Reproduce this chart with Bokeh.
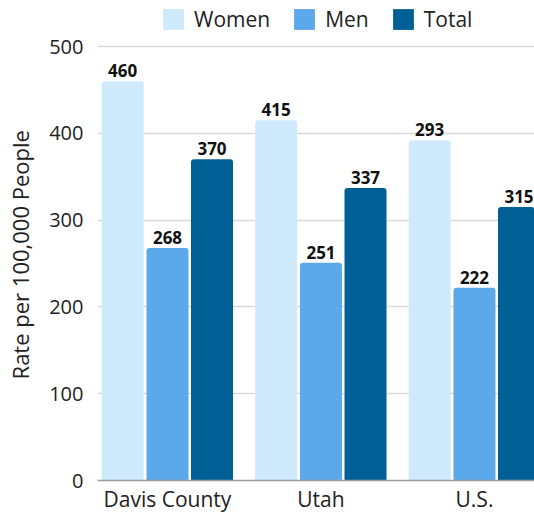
from bokeh.plotting import figure
from bokeh.models import Range1d, FixedTicker, Legend, LegendItem, ColumnDataSource
from bokeh.core.properties import value
from bokeh.embed import file_html
from bokeh.resources import INLINE

categories = ["Davis County", "Utah", "U.S."]
women = [460, 415, 392]
men = [268, 251, 222]
total = [370, 337, 315]
women_labels = ["460", "415", "293"]
men_labels = ["268", "251", "222"]
total_labels = ["370", "337", "315"]
y_ticks = [0, 100, 200, 300, 400, 500]
y_title = "Rate per 100,000 People"

series = [
    ("Women", women, women_labels, "#cfeafc", -0.292),
    ("Men", men, men_labels, "#5ba8ea", 0.0),
    ("Total", total, total_labels, "#006096", 0.29),
]

FONT = "Open Sans"

p = figure(width=534, height=515, output_backend="svg", toolbar_location=None,
           x_range=Range1d(-0.456, 2.391), y_range=Range1d(0, 553.0),
           min_border_left=97, min_border_right=0, min_border_top=0, min_border_bottom=35)
p.outline_line_color = None
p.background_fill_color = "white"
p.border_fill_color = "white"

items = []
base_x = list(range(len(categories)))
for name, vals, labels, color, off in series:
    xs = [b + off for b in base_x]
    src = ColumnDataSource(dict(x=xs, top=vals, lab=labels))
    r = p.vbar(x="x", top="top", width=0.2736, source=src, fill_color=color,
               line_color=None, border_radius=(3, 3, 0, 0))
    p.text(x="x", y="top", text="lab", source=src, text_align="center",
           text_baseline="bottom", y_offset=-4, text_font=value(FONT),
           text_font_size="17px", text_font_style="bold", text_color="#111111")
    items.append(LegendItem(label=name, renderers=[r]))

legend = Legend(items=items, orientation="horizontal", location=(63, 447),
                glyph_width=26, glyph_height=26, label_standoff=8, spacing=21,
                padding=0, margin=0, border_line_color=None, background_fill_alpha=0,
                label_text_font=FONT, label_text_font_size="21px",
                label_text_color="#222222", label_height=26)
p.add_layout(legend)

p.xaxis.ticker = FixedTicker(ticks=base_x)
p.xaxis.major_label_overrides = {i: c for i, c in enumerate(categories)}
p.xaxis.major_tick_line_color = None
p.xaxis.major_tick_in = 0
p.xaxis.major_tick_out = 0
p.xaxis.minor_tick_line_color = None
p.xaxis.axis_line_color = "#9e9e9e"
p.xaxis.axis_line_width = 1.5
p.xaxis.major_label_text_font = FONT
p.xaxis.major_label_text_font_size = "21px"
p.xaxis.major_label_text_color = "#222222"
p.xaxis.major_label_standoff = 4

p.yaxis.ticker = FixedTicker(ticks=y_ticks)
p.yaxis.major_tick_line_color = None
p.yaxis.major_tick_in = 0
p.yaxis.major_tick_out = 0
p.yaxis.minor_tick_line_color = None
p.yaxis.axis_line_color = None
p.yaxis.major_label_text_font = FONT
p.yaxis.major_label_text_font_size = "20px"
p.yaxis.major_label_text_color = "#222222"
p.yaxis.major_label_standoff = 14
p.yaxis.axis_label = y_title + "\u00a0" * 5
p.yaxis.axis_label_text_font = FONT
p.yaxis.axis_label_text_font_size = "22px"
p.yaxis.axis_label_text_font_style = "normal"
p.yaxis.axis_label_text_color = "#222222"
p.yaxis.axis_label_standoff = 11

p.xgrid.grid_line_color = None
p.ygrid.ticker = FixedTicker(ticks=y_ticks[1:])
p.ygrid.grid_line_color = "#d9d9d9"
p.ygrid.grid_line_width = 1.5

open("out.html", "w").write(file_html(p, INLINE))
